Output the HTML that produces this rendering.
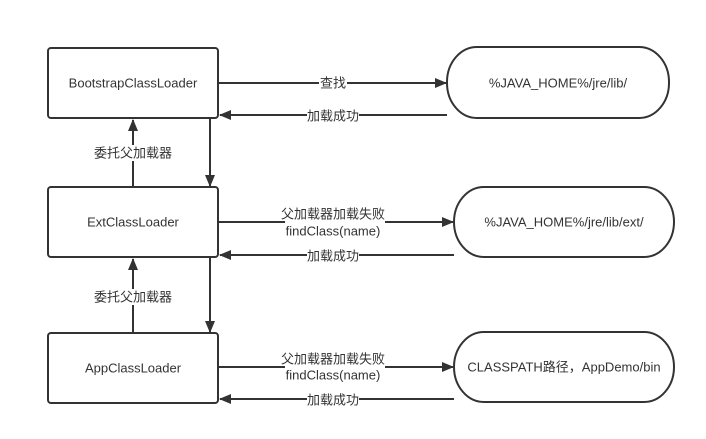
<!DOCTYPE html>
<html><head><meta charset="utf-8"><style>
body{margin:0;background:#fff}
svg text{font-family:"Liberation Sans","Noto Sans CJK SC",sans-serif;font-size:13px;fill:#333}
</style></head><body>
<svg width="706" height="434" viewBox="0 0 706 434" xmlns="http://www.w3.org/2000/svg">
<defs><marker id="a" markerWidth="12" markerHeight="10" refX="11" refY="5" orient="auto" markerUnits="userSpaceOnUse"><path d="M0,0L12,5L0,10z" fill="#333"/></marker></defs>
<g fill="#fff" stroke="#333" stroke-width="2">
<rect x="48" y="48" width="170" height="70" rx="3"/>
<rect x="48" y="187" width="170" height="70" rx="3"/>
<rect x="48" y="333" width="170" height="70" rx="3"/>
<rect x="447" y="47" width="222" height="71" rx="30" ry="35"/>
<rect x="454" y="187" width="220" height="70" rx="30" ry="35"/>
<rect x="454" y="332" width="220" height="70" rx="30" ry="35"/>
</g>
<g stroke="#333" stroke-width="2" fill="none" marker-end="url(#a)">
<line x1="218" y1="83" x2="446" y2="83"/>
<line x1="447" y1="115" x2="220" y2="115"/>
<line x1="218" y1="222" x2="453" y2="222"/>
<line x1="454" y1="255" x2="220" y2="255"/>
<line x1="218" y1="367" x2="453" y2="367"/>
<line x1="454" y1="399" x2="220" y2="399"/>
<line x1="133" y1="187" x2="133" y2="120"/>
<line x1="210" y1="118" x2="210" y2="186"/>
<line x1="133" y1="333" x2="133" y2="259"/>
<line x1="210" y1="257" x2="210" y2="332"/>
</g>
<g fill="#fff">
<rect x="319" y="75" width="28" height="16"/>
<rect x="307" y="107" width="52" height="16"/>
<rect x="94" y="145" width="78" height="16"/>
<rect x="94" y="289" width="78" height="16"/>
<rect x="285" y="207" width="100" height="32"/>
<rect x="307" y="247" width="52" height="16"/>
<rect x="285" y="351" width="100" height="32"/>
<rect x="307" y="391" width="52" height="16"/>
</g>
<g text-anchor="middle" dominant-baseline="central">
<text x="133" y="83">BootstrapClassLoader</text>
<text x="133" y="222">ExtClassLoader</text>
<text x="133" y="368">AppClassLoader</text>
<text x="558" y="83">%JAVA_HOME%/jre/lib/</text>
<text x="564" y="222">%JAVA_HOME%/jre/lib/ext/</text>
<text x="564" y="367">CLASSPATH路径，AppDemo/bin</text>
<text x="333" y="83">查找</text>
<text x="333" y="116">加载成功</text>
<text x="133" y="153">委托父加载器</text>
<text x="133" y="297">委托父加载器</text>
<text x="333" y="214">父加载器加载失败</text>
<text x="333" y="231">findClass(name)</text>
<text x="333" y="256">加载成功</text>
<text x="333" y="359">父加载器加载失败</text>
<text x="333" y="375">findClass(name)</text>
<text x="333" y="400">加载成功</text>
</g>
</svg>
</body></html>
